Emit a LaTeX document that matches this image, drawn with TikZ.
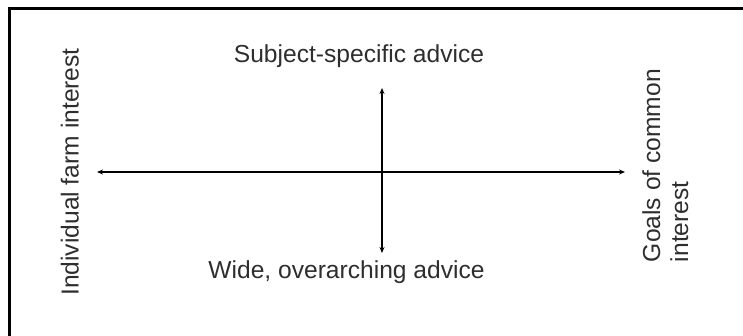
\documentclass[tikz,border=0pt]{standalone}
\usepackage{fontspec}
\setmainfont{Liberation Sans}
\usetikzlibrary{arrows.meta}
\tikzset{
  lbl/.style={font=\fontsize{24.6}{28}\selectfont, text=black!82, inner sep=0pt, outer sep=0pt},
  axis/.style={line width=1.5pt, {Stealth[length=6pt,width=5pt]}-{Stealth[length=6pt,width=5pt]}},
  frame/.style={line width=2.4pt, draw=black}
}
\begin{document}
\begin{tikzpicture}[x=1pt,y=-1pt]
\useasboundingbox (0,0) rectangle (743,336);
\begin{scope}
\clip (0,0) rectangle (743,336);
\draw[frame] (9.5,8.5) rectangle (760,350);
\end{scope}
% axis end points
\coordinate (hl) at (97,172);
\coordinate (hr) at (625,172);
\coordinate (vt) at (382,88);
\coordinate (vb) at (382,253);
\draw[axis] (hl) -- (hr);
\draw[axis] (vt) -- (vb);
% labels
\node[lbl, anchor=base] (top) at (359,63) {Subject-specific advice};
\node[lbl, anchor=base] (bottom) at (346.5,278.5) {Wide, overarching advice};
\node[lbl, anchor=base, rotate=90] (left) at (78.5,172) {Individual farm interest};
\node[lbl, anchor=base west, rotate=90] (right1) at (660,262) {Goals of common};
\node[lbl, anchor=base west, rotate=90] (right2) at (688,262) {interest};
\end{tikzpicture}
\end{document}
